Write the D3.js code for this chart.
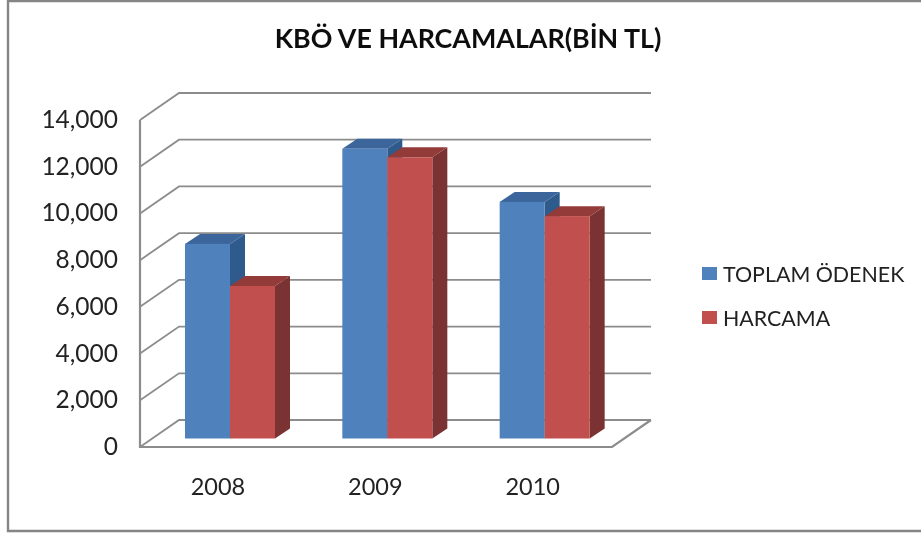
<!DOCTYPE html>
<html>
<head>
<meta charset="utf-8">
<script src="https://cdn.jsdelivr.net/npm/d3@7"></script>
<style>
  html, body { margin: 0; padding: 0; background: #fff; }
  svg { display: block; }
  text { font-family: Lato, "Noto Sans", sans-serif; fill: #222; }
</style>
</head>
<body>
<svg width="921" height="533"></svg>
<script>
var years = ["2008", "2009", "2010"];
var seriesNames = ["TOPLAM ÖDENEK", "HARCAMA"];
var toplam = [8330, 12400, 10130];
var harcama = [6530, 12040, 9520];
var ticks = [0, 2000, 4000, 6000, 8000, 10000, 12000, 14000];

var colors = [
  { front: "#4f81bd", side: "#2f5a8c", top: "#3a659b" },
  { front: "#c0504d", side: "#7a3230", top: "#933b39" }
];

var svg = d3.select("svg");

// the reference is a slightly soft screenshot
svg.append("filter").attr("id", "soft")
  .append("feGaussianBlur").attr("stdDeviation", 0.45);
var root = svg.append("g").attr("filter", "url(#soft)");

// frame, open on the right
root.append("path")
  .attr("d", "M921,1L8,1L8,531L921,531")
  .attr("fill", "none").attr("stroke", "#858585").attr("stroke-width", 2.4);

root.append("text")
  .attr("x", 468).attr("y", 48)
  .attr("text-anchor", "middle")
  .style("font-size", "26.8px").style("font-weight", "700")
  .style("fill", "#111")
  .text("KBÖ VE HARCAMALAR(BİN TL)");

// 3d box: wall depth
var wallDx = 39, wallDy = -27;
var y = d3.scaleLinear().domain([0, 14000]).range([447, 120]);
var x0 = d3.scaleBand().domain(years).range([140, 612]);
var x1 = d3.scaleBand().domain(d3.range(2)).range([185 - 140, 275 - 140]);

// bars sit partway into the floor
var barOffY = -8.5;
var barDx = 15, barDy = -10;

var wall = "#8c8c8c";
var grid = root.append("g").attr("fill", "none").attr("stroke", wall).attr("stroke-width", 1.8);

grid.selectAll("path").data(ticks).enter().append("path")
  .attr("d", function(d) {
    return "M140," + y(d) + "L" + (140 + wallDx) + "," + (y(d) + wallDy) + "L" + (612 + wallDx) + "," + (y(d) + wallDy);
  });

// left wall + floor edge
grid.append("path").attr("d", "M140," + y(14000) + "L140," + y(0) + "L612," + y(0) + "L" + (612 + wallDx) + "," + (y(0) + wallDy))
  .attr("stroke-width", 2.2);

// value axis labels
root.selectAll("text.tick").data(ticks).enter().append("text")
  .attr("class", "tick")
  .attr("x", 118).attr("y", function(d) { return y(d) + 8; })
  .attr("text-anchor", "end")
  .style("font-size", "24.5px")
  .text(function(d) { return d3.format(",")(d); });

// years
root.selectAll("text.year").data(years).enter().append("text")
  .attr("class", "year")
  .attr("x", function(d) { return x0(d) + 78; })
  .attr("y", 495)
  .attr("text-anchor", "middle")
  .style("font-size", "23.5px")
  .text(function(d) { return d; });

// bars
[toplam, harcama].forEach(function(values, s) {
  var g = root.append("g");
  var c = colors[s];
  values.forEach(function(v, i) {
    var left = x0(years[i]) + x1(s);
    var right = left + x1.bandwidth();
    var base = y(0) + barOffY;
    var top = y(v) + barOffY;
    g.append("path").attr("fill", c.side)
      .attr("d", "M" + right + "," + top + "L" + (right + barDx) + "," + (top + barDy) + "L" + (right + barDx) + "," + (base + barDy) + "L" + right + "," + base + "Z");
    g.append("path").attr("fill", c.top)
      .attr("d", "M" + left + "," + top + "L" + (left + barDx) + "," + (top + barDy) + "L" + (right + barDx) + "," + (top + barDy) + "L" + right + "," + top + "Z");
    g.append("rect").attr("fill", c.front)
      .attr("x", left).attr("y", top)
      .attr("width", x1.bandwidth()).attr("height", base - top);
  });
});

// legend
var legendY = d3.scalePoint().domain(seriesNames).range([274, 318]);
var legend = root.selectAll("g.legend").data(seriesNames).enter().append("g").attr("class", "legend");
legend.append("rect")
  .attr("x", 702).attr("y", function(d) { return legendY(d) - 7; })
  .attr("width", 15).attr("height", 13)
  .attr("fill", function(d, i) { return colors[i].front; });
legend.append("text")
  .attr("x", 723).attr("y", function(d) { return legendY(d) + 8; })
  .style("font-size", "21.4px")
  .text(function(d) { return d; });
</script>
</body>
</html>
